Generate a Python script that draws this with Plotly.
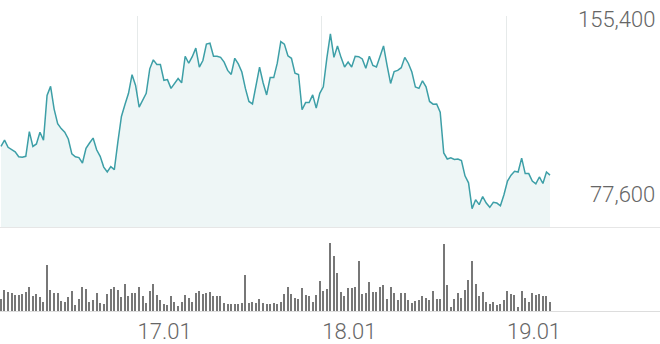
import pandas as pd
import plotly.graph_objects as go

# Weekly closing price
price = [98800, 101600, 98400, 97500, 96400, 94200, 94000, 94400, 105400, 98800,
         99900, 105100, 101600, 121500, 125500, 115400, 108900, 106700, 105100, 102100,
         95500, 94200, 93800, 91400, 97900, 100300, 102500, 97300, 94400, 89600,
         87400, 89800, 88500, 100800, 112100, 117400, 122400, 130700, 125900, 116300,
         119300, 122400, 133300, 137300, 135200, 135200, 128200, 128500, 124600, 126800,
         129000, 127100, 138900, 135800, 138700, 142500, 134100, 137000, 144300, 144700,
         138900, 138900, 138400, 136300, 132600, 130800, 138000, 135500, 131900, 124600,
         118800, 117700, 126000, 134100, 127100, 121700, 129400, 129400, 135800, 145400,
         144300, 139100, 138000, 131400, 130800, 115100, 118300, 118300, 121700, 115800,
         122400, 125300, 138100, 148900, 138400, 143500, 138400, 134100, 136300, 134100,
         138900, 138700, 137700, 133600, 138900, 134800, 134100, 138400, 143500, 134800,
         126800, 132100, 132600, 133800, 138400, 135800, 131900, 125200, 124600, 128000,
         125300, 118800, 117600, 117700, 114000, 95900, 93200, 93700, 93000, 93200,
         92500, 85700, 82600, 71100, 75100, 72900, 76500, 73600, 71700, 73900,
         73600, 72400, 77300, 83400, 86000, 87700, 87400, 93600, 86700, 86700,
         83400, 82100, 85200, 82300, 87400, 86000]

# Weekly volume
volume = [127, 217, 200, 185, 167, 167, 175, 200, 243, 160,
          177, 150, 100, 473, 217, 183, 183, 107, 93, 150,
          207, 67, 127, 243, 227, 100, 117, 183, 83, 73,
          177, 223, 250, 213, 150, 283, 157, 183, 190, 243,
          157, 83, 210, 283, 167, 117, 77, 67, 160, 93,
          57, 100, 167, 140, 100, 183, 210, 177, 183, 200,
          157, 160, 160, 90, 77, 77, 77, 77, 83, 373,
          83, 100, 83, 127, 83, 77, 77, 83, 77, 93,
          177, 250, 173, 140, 127, 240, 167, 157, 100, 167,
          310, 207, 223, 700, 560, 393, 193, 160, 233, 233,
          250, 517, 177, 183, 300, 193, 193, 250, 267, 127,
          243, 183, 117, 190, 190, 117, 90, 107, 117, 160,
          133, 117, 207, 127, 123, 683, 273, 43, 127, 183,
          140, 217, 323, 517, 283, 157, 193, 93, 77, 100,
          67, 73, 117, 210, 177, 167, 43, 210, 133, 93,
          183, 167, 177, 160, 160, 93]

start_week = "2016-04-07"
tick_dates = ["2017-01-01", "2018-01-01", "2019-01-01"]
tick_labels = ["17.01", "18.01", "19.01"]
price_ticks = [155400, 77600]
price_tick_text = ["155,400", "77,600"]

weeks = pd.date_range(start_week, periods=len(price), freq="7D")
x_range = ["2016-04-05 00:34", "2019-10-31 09:36"]

label_font = dict(family="Roboto", size=22, color="#666666", weight=300)

fig = go.Figure()
fig.add_trace(go.Scatter(
    x=weeks, y=price, mode="lines",
    line=dict(color="#3d9fa7", width=1.5),
    fill="tozeroy", fillcolor="#eef6f6",
    xaxis="x", yaxis="y", hoverinfo="skip"))
fig.add_trace(go.Bar(
    x=weeks, y=volume[:len(price)],
    marker=dict(color="#777777", line_width=0),
    width=2.4 * 86400000,
    xaxis="x2", yaxis="y2", hoverinfo="skip"))

for val, txt in zip(price_ticks, price_tick_text):
    fig.add_annotation(x=1, xref="paper", y=val, yref="y", text=txt,
                       showarrow=False, xanchor="right", yanchor="middle",
                       xshift=-3, font=label_font)

fig.update_layout(
    width=660, height=344,
    margin=dict(l=0, r=0, t=0, b=0),
    paper_bgcolor="white", plot_bgcolor="white",
    showlegend=False, bargap=0,
    font=label_font,
    xaxis=dict(type="date", range=x_range, domain=[0, 1], anchor="y",
               tickvals=tick_dates, showticklabels=False, ticks="",
               showgrid=True, gridcolor="#e6eaea", gridwidth=1,
               zeroline=False, showline=True, linecolor="#e6e6e6", linewidth=1),
    yaxis=dict(domain=[0.32703, 0.95349], range=[62739, 156930], anchor="x",
               showticklabels=False, ticks="",
               showgrid=False, zeroline=False, showline=False),
    xaxis2=dict(type="date", range=x_range, domain=[0, 1], anchor="y2",
                tickvals=tick_dates, ticktext=tick_labels,
                ticklabelposition="outside right", ticks="",
                showgrid=False, zeroline=False,
                showline=True, linecolor="#dddddd", linewidth=1),
    yaxis2=dict(domain=[0.0794, 0.3023], range=[0, 767], anchor="x2",
                visible=False),
)

fig.write_html("out.html", config={"displayModeBar": False})
